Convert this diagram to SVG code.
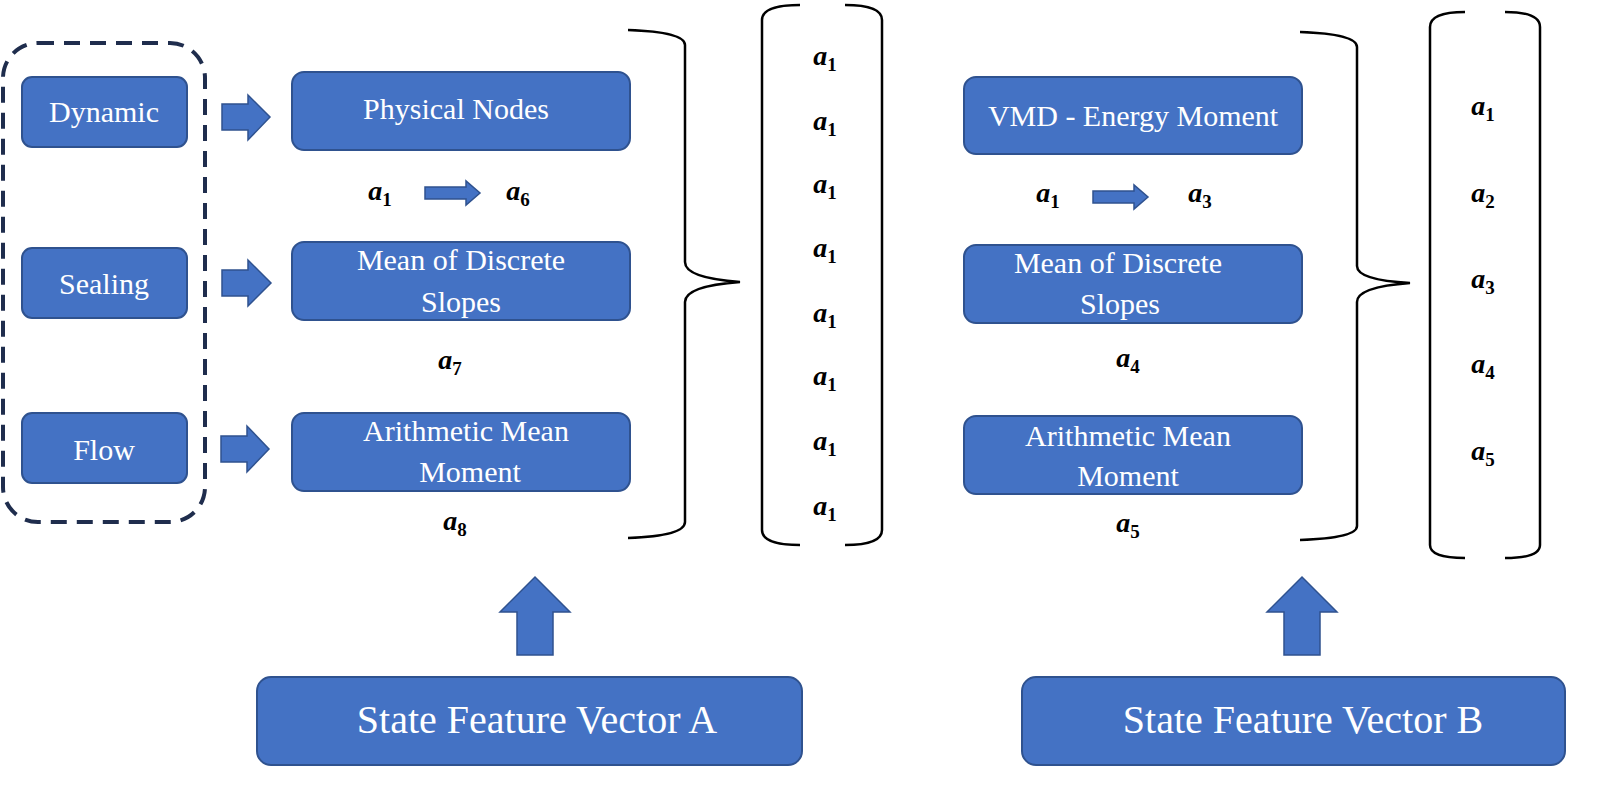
<svg xmlns="http://www.w3.org/2000/svg" width="1600" height="785" viewBox="0 0 1600 785">
<style>
.box{fill:#4472C4;stroke:#2F528F;stroke-width:2}
.t{font-family:"Liberation Serif",serif;fill:#fff;font-size:30px;text-anchor:middle}
.big{font-size:40px}
.m{font-family:"Liberation Serif",serif;font-weight:bold;font-style:italic;font-size:28px;fill:#000;text-anchor:middle}
.s{font-style:normal;font-size:19px}
.ln{fill:none;stroke:#000;stroke-width:2.5}
.arr{fill:#4472C4;stroke:#2F528F;stroke-width:1.5}
</style>
<rect x="3" y="43" width="202" height="479" rx="35" fill="none" stroke="#1F2D4D" stroke-width="4" stroke-dasharray="16,10"/>
<g id="dynamic"><rect class="box" x="22" y="77" width="165" height="70" rx="10"/><text class="t" x="104" y="122">Dynamic</text></g>
<g id="sealing"><rect class="box" x="22" y="248" width="165" height="70" rx="10"/><text class="t" x="104" y="294">Sealing</text></g>
<g id="flow"><rect class="box" x="22" y="413" width="165" height="70" rx="10"/><text class="t" x="104" y="460">Flow</text></g>
<g id="physical"><rect class="box" x="292" y="72" width="338" height="78" rx="12"/><text class="t" x="456" y="119">Physical Nodes</text></g>
<g id="mean1"><rect class="box" x="292" y="242" width="338" height="78" rx="12"/><text class="t" x="461" y="270">Mean of Discrete</text><text class="t" x="461" y="312">Slopes</text></g>
<g id="arith1"><rect class="box" x="292" y="413" width="338" height="78" rx="12"/><text class="t" x="466" y="441">Arithmetic Mean</text><text class="t" x="470" y="482">Moment</text></g>
<g id="vmd"><rect class="box" x="964" y="77" width="338" height="77" rx="12"/><text class="t" x="1133" y="126">VMD - Energy Moment</text></g>
<g id="mean2"><rect class="box" x="964" y="245" width="338" height="78" rx="12"/><text class="t" x="1118" y="273">Mean of Discrete</text><text class="t" x="1120" y="314">Slopes</text></g>
<g id="arith2"><rect class="box" x="964" y="416" width="338" height="78" rx="12"/><text class="t" x="1128" y="446">Arithmetic Mean</text><text class="t" x="1128" y="486">Moment</text></g>
<g id="vecA"><rect class="box" x="257" y="677" width="545" height="88" rx="14"/><text class="t big" x="537" y="733">State Feature Vector A</text></g>
<g id="vecB"><rect class="box" x="1022" y="677" width="543" height="88" rx="14"/><text class="t big" x="1303" y="733">State Feature Vector B</text></g>
<g id="connectors">
<polygon class="arr" points="222,104 248,104 248,95 270,117 248,140 248,130 222,130"/>
<polygon class="arr" points="222,270 248,270 248,260 271,283 248,306 248,296 222,296"/>
<polygon class="arr" points="221,436 247,436 247,426 269,449 247,472 247,462 221,462"/>
<polygon class="arr" points="425,187 466,187 466,181 480,193 466,205 466,199 425,199"/>
<polygon class="arr" points="1093,191 1134,191 1134,185 1148,197 1134,209 1134,203 1093,203"/>
<polygon class="arr" points="517,655 517,612 500,612 535,577 570,612 553,612 553,655"/>
<polygon class="arr" points="1284,655 1284,612 1267,612 1302,577 1337,612 1320,612 1320,655"/>
<path class="ln" d="M628,30 Q685,32 685,45 L685,262 Q685,278 740,282 Q685,286 685,302 L685,522 Q685,536 628,538"/>
<path class="ln" d="M1300,32 Q1357,34 1357,47 L1357,266 Q1357,280 1410,283 Q1357,287 1357,302 L1357,526 Q1357,538 1300,540"/>
<path class="ln" d="M800,5 Q762,5 762,20 L762,530 Q762,545 800,545"/>
<path class="ln" d="M845,5 Q882,5 882,20 L882,530 Q882,545 845,545"/>
<path class="ln" d="M1465,12 Q1430,12 1430,27 L1430,545 Q1430,558 1465,558"/>
<path class="ln" d="M1505,12 Q1540,12 1540,27 L1540,545 Q1540,558 1505,558"/>
</g>
<g id="labels">
<text class="m" x="380" y="200">a<tspan class="s" dy="6">1</tspan></text>
<text class="m" x="518" y="200">a<tspan class="s" dy="6">6</tspan></text>
<text class="m" x="450" y="369">a<tspan class="s" dy="6">7</tspan></text>
<text class="m" x="455" y="530">a<tspan class="s" dy="6">8</tspan></text>
<text class="m" x="1048" y="202">a<tspan class="s" dy="6">1</tspan></text>
<text class="m" x="1200" y="202">a<tspan class="s" dy="6">3</tspan></text>
<text class="m" x="1128" y="367">a<tspan class="s" dy="6">4</tspan></text>
<text class="m" x="1128" y="532">a<tspan class="s" dy="6">5</tspan></text>
<text class="m" x="825" y="65">a<tspan class="s" dy="6">1</tspan></text>
<text class="m" x="825" y="130">a<tspan class="s" dy="6">1</tspan></text>
<text class="m" x="825" y="193">a<tspan class="s" dy="6">1</tspan></text>
<text class="m" x="825" y="257">a<tspan class="s" dy="6">1</tspan></text>
<text class="m" x="825" y="322">a<tspan class="s" dy="6">1</tspan></text>
<text class="m" x="825" y="385">a<tspan class="s" dy="6">1</tspan></text>
<text class="m" x="825" y="450">a<tspan class="s" dy="6">1</tspan></text>
<text class="m" x="825" y="515">a<tspan class="s" dy="6">1</tspan></text>
<text class="m" x="1483" y="115">a<tspan class="s" dy="6">1</tspan></text>
<text class="m" x="1483" y="202">a<tspan class="s" dy="6">2</tspan></text>
<text class="m" x="1483" y="288">a<tspan class="s" dy="6">3</tspan></text>
<text class="m" x="1483" y="373">a<tspan class="s" dy="6">4</tspan></text>
<text class="m" x="1483" y="460">a<tspan class="s" dy="6">5</tspan></text>
</g>
</svg>
